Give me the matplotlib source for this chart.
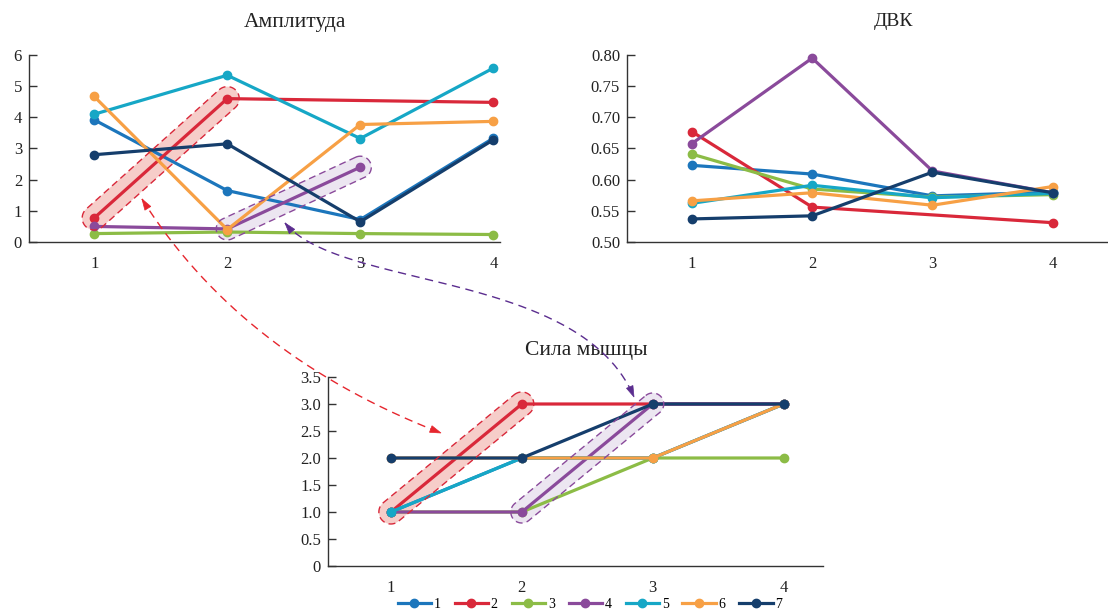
import numpy as np
import matplotlib
matplotlib.use("Agg")
import matplotlib.pyplot as plt
from matplotlib.patches import Polygon
from matplotlib.lines import Line2D
from matplotlib.transforms import IdentityTransform

plt.rcParams['font.family'] = ['Liberation Serif', 'DejaVu Serif']

stages = [1, 2, 3, 4]
series_labels = ['1', '2', '3', '4', '5', '6', '7']
colors = ['#1c76bc', '#d9283a', '#8cbc46', '#8a4a9b', '#16a7c6', '#f7a045', '#153e6c']

nan = np.nan
amplitude = [
    [3.92, 1.65, 0.72, 3.33],
    [0.77, 4.60, nan, 4.48],
    [0.27, 0.32, 0.27, 0.24],
    [0.50, 0.42, 2.40, nan],
    [4.10, 5.35, 3.32, 5.58],
    [4.67, 0.40, 3.77, 3.87],
    [2.80, 3.15, 0.65, 3.28],
]
dvk = [
    [0.623, 0.609, 0.574, 0.580],
    [0.677, 0.556, nan, 0.531],
    [0.641, 0.585, 0.572, 0.576],
    [0.658, 0.795, 0.614, 0.579],
    [0.562, 0.591, 0.571, 0.578],
    [0.566, 0.579, 0.559, 0.589],
    [0.537, 0.542, 0.612, 0.579],
]
strength = [
    [1, 2, 2, 3],
    [1, 3, 3, 3],
    [1, 1, 2, 2],
    [1, 1, 3, 3],
    [1, 2, 2, 3],
    [2, 2, 2, 3],
    [2, 2, 3, 3],
]

amp_ticks = [0, 1, 2, 3, 4, 5, 6]
amp_ticklabels = ['0', '1', '2', '3', '4', '5', '6']
dvk_ticks = [0.50, 0.55, 0.60, 0.65, 0.70, 0.75, 0.80]
dvk_ticklabels = ['0.50', '0.55', '0.60', '0.65', '0.70', '0.75', '0.80']
str_ticks = [0, 0.5, 1.0, 1.5, 2.0, 2.5, 3.0, 3.5]
str_ticklabels = ['0', '0.5', '1.0', '1.5', '2.0', '2.5', '3.0', '3.5']

W, H = 1108, 613
fig = plt.figure(figsize=(W / 100, H / 100), dpi=100)


def px_axes(left, right, top, bottom):
    return fig.add_axes([left / W, 1 - bottom / H, (right - left) / W, (bottom - top) / H])


def style(ax, ylim, xlim, yt, ytl):
    ax.set_xlim(*xlim)
    ax.set_ylim(*ylim)
    for s in ('top', 'right'):
        ax.spines[s].set_visible(False)
    for s in ('left', 'bottom'):
        ax.spines[s].set_color('#333333')
        ax.spines[s].set_linewidth(1.0)
    ax.set_yticks(yt)
    ax.set_yticklabels(ytl)
    ax.set_xticks(stages)
    ax.set_xticklabels([str(s) for s in stages])
    ax.tick_params(axis='y', direction='in', length=6, width=1.0, color='#333333',
                   pad=5, labelsize=12, labelcolor='#222222')
    ax.tick_params(axis='x', length=0, pad=10, labelsize=12, labelcolor='#222222')
    ax.patch.set_alpha(0)


def plot_series(ax, data):
    lines = []
    for i, vals in enumerate(data):
        v = np.array(vals, dtype=float)
        m = np.isfinite(v)
        x = np.array(stages)[m]
        ln, = ax.plot(x, v[m], color=colors[i], lw=2.3, marker='o', ms=6,
                      zorder=2 + i * 0.1, label=series_labels[i], clip_on=False)
        lines.append(ln)
    return lines


ax1 = px_axes(29, 500, 55, 242)
style(ax1, (0, 6), (0.51, 4.05), amp_ticks, amp_ticklabels)
plot_series(ax1, amplitude)

ax2 = px_axes(627, 1108, 55, 242)
style(ax2, (0.50, 0.80), (0.46, 4.46), dvk_ticks, dvk_ticklabels)
plot_series(ax2, dvk)

ax3 = px_axes(328, 823, 377, 566)
style(ax3, (0, 3.5), (0.52, 4.30), str_ticks, str_ticklabels)
handles = plot_series(ax3, strength)

fig.text(295 / W, 1 - 22 / H, 'Амплитуда', ha='center', va='center', fontsize=15.5, color='#222222')
fig.text(893 / W, 1 - 22 / H, 'ДВК', ha='center', va='center', fontsize=14, color='#222222')
fig.text(586 / W, 1 - 350 / H, 'Сила мышцы', ha='center', va='center', fontsize=15.5, color='#222222')

fig.legend(handles=handles, labels=series_labels, loc='center', ncol=7,
           bbox_to_anchor=(590 / W, 1 - 604 / H), frameon=False, fontsize=10,
           handlelength=2.4, handletextpad=0.2, columnspacing=1.0, numpoints=1,
           borderpad=0.1)


def capsule(ax, p, q, r, face, edge):
    a = ax.transData.transform(p)
    b = ax.transData.transform(q)
    d = b - a
    u = d / np.hypot(*d)
    n = np.array([-u[1], u[0]])
    t = np.linspace(0, np.pi, 30)
    pts = []
    for tt in t:
        pts.append(b + r * (np.cos(tt) * n + np.sin(tt) * u))
    for tt in t:
        pts.append(a + r * (-np.cos(tt) * n - np.sin(tt) * u))
    pts = np.array(pts)
    fill = Polygon(pts, closed=True, transform=IdentityTransform(), facecolor=face,
                   edgecolor='none', zorder=1)
    ax.add_artist(fill)
    fill.set_clip_on(False)
    outline = Polygon(pts, closed=True, transform=IdentityTransform(), facecolor='none',
                      edgecolor=edge, lw=1.0, linestyle=(0, (5, 3)), zorder=5)
    ax.add_artist(outline)
    outline.set_clip_on(False)


red_face, red_edge = '#f6cdc9', '#d9283a'
pur_face, pur_edge = '#ece6f1', '#8a4a9b'

capsule(ax1, (1, amplitude[1][0]), (2, amplitude[1][1]), 12, red_face, red_edge)
capsule(ax1, (2, amplitude[3][1]), (3, amplitude[3][2]), 11, pur_face, pur_edge)
capsule(ax3, (1, strength[1][0]), (2, strength[1][1]), 12, red_face, red_edge)
capsule(ax3, (2, strength[3][1]), (3, strength[3][2]), 11, pur_face, pur_edge)


def to_disp(pt):
    return np.array([pt[0], H - pt[1]], dtype=float)


def head(tip, direction, color, length=11, half=3.5):
    d = direction / np.hypot(*direction)
    n = np.array([-d[1], d[0]])
    base = tip - d * length
    poly = Polygon([tip, base + n * half, base - n * half], closed=True,
                   transform=IdentityTransform(), facecolor=color, edgecolor=color,
                   lw=0.5, zorder=10)
    fig.add_artist(poly)


def bezier_arrow(ctrl, color):
    P = [to_disp(c) for c in ctrl]
    t = np.linspace(0, 1, 200)[:, None]
    if len(P) == 3:
        curve = (1 - t) ** 2 * P[0] + 2 * (1 - t) * t * P[1] + t ** 2 * P[2]
    else:
        curve = ((1 - t) ** 3 * P[0] + 3 * (1 - t) ** 2 * t * P[1]
                 + 3 * (1 - t) * t ** 2 * P[2] + t ** 3 * P[3])
    fig.add_artist(Line2D(curve[:, 0], curve[:, 1], transform=IdentityTransform(),
                          color=color, lw=1.0, linestyle=(0, (6, 4)), zorder=9))
    head(P[0], P[0] - P[1], color)
    head(P[-1], P[-1] - P[-2], color)


bezier_arrow([(142, 199), (240, 355), (441, 433)], '#e6262e')
bezier_arrow([(285, 223), (340, 290), (580, 270), (634, 397)], '#5b2d8f')

fig.savefig('out.png', dpi=100)
